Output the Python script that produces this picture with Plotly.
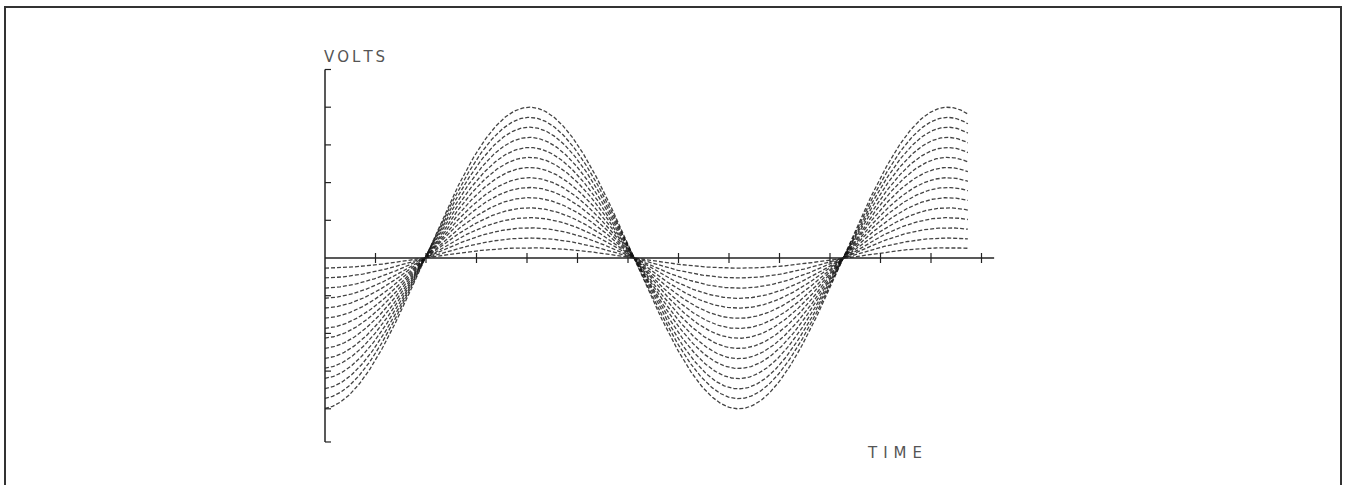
import numpy as np
import plotly.graph_objects as go

# Family of sine waves with stepped amplitudes (volts vs time)
amplitudes = [0.27, 0.53, 0.80, 1.07, 1.33, 1.60, 1.87, 2.13,
              2.40, 2.67, 2.93, 3.20, 3.47, 3.73, 4.00]
zero_cross = 1.98      # first upward zero crossing (time units)
half_period = 4.14     # time between zero crossings
t_start, t_end = 0.0, 12.73

x_ticks = list(range(1, 14))
y_ticks = [-4, -3, -2, -1, 1, 2, 3, 4, 5]
x_axis_end = 13.25
y_axis_top, y_axis_bottom = 5.0, -4.88

# pixel scale of the drawing
W, H = 1347, 485
ox, oy = 325, 258          # origin in pixels
px_x, px_y = 50.5, 37.7    # pixels per unit

x_range = [-ox / px_x, (W - ox) / px_x]
y_range = [-(H - oy) / px_y, oy / px_y]

fig = go.Figure()

t = np.linspace(t_start, t_end, 600)
for a in amplitudes:
    v = a * np.sin(np.pi * (t - zero_cross) / half_period)
    fig.add_trace(go.Scatter(
        x=t, y=v, mode="lines",
        line=dict(color="rgba(20,20,20,0.8)", width=1.3, dash="4px,2px"),
        hoverinfo="skip", showlegend=False))

axis_color = "#222"
# axes lines
fig.add_trace(go.Scatter(x=[0, x_axis_end], y=[0, 0], mode="lines",
                         line=dict(color=axis_color, width=1.5),
                         hoverinfo="skip", showlegend=False))
fig.add_trace(go.Scatter(x=[0, 0], y=[y_axis_bottom, y_axis_top], mode="lines",
                         line=dict(color=axis_color, width=1.5),
                         hoverinfo="skip", showlegend=False))

# tick marks
tx, ty = [], []
dy = 5 / px_y
for xv in x_ticks:
    tx += [xv, xv, None]
    ty += [-dy, dy, None]
dx = 6 / px_x
for yv in y_ticks + [y_axis_bottom]:
    tx += [0, dx, None]
    ty += [yv, yv, None]
fig.add_trace(go.Scatter(x=tx, y=ty, mode="lines",
                         line=dict(color=axis_color, width=1.2),
                         hoverinfo="skip", showlegend=False))

# plotter-style labels, letters spread apart
gap = "\u2009"
label_font = dict(family="DejaVu Sans, sans-serif", size=15, color="#555")
fig.add_annotation(x=-3 / px_x, y=(oy - 57) / px_y, text=gap.join("VOLTS"),
                   showarrow=False, xanchor="left", yanchor="middle",
                   font=label_font)
fig.add_annotation(x=(865 - ox) / px_x, y=(oy - 453) / px_y,
                   text=(gap * 2).join("TIME"),
                   showarrow=False, xanchor="left", yanchor="middle",
                   font=label_font)

# page frame
fig.add_shape(type="rect", xref="paper", yref="paper",
              x0=5 / W, x1=1341 / W, y0=-0.05, y1=1 - 7 / H,
              line=dict(color="#333", width=2))

fig.update_layout(
    width=W, height=H, margin=dict(l=0, r=0, t=0, b=0),
    paper_bgcolor="white", plot_bgcolor="white",
    xaxis=dict(range=x_range, visible=False, fixedrange=True),
    yaxis=dict(range=y_range, visible=False, fixedrange=True),
)

fig.write_html("out.html")
